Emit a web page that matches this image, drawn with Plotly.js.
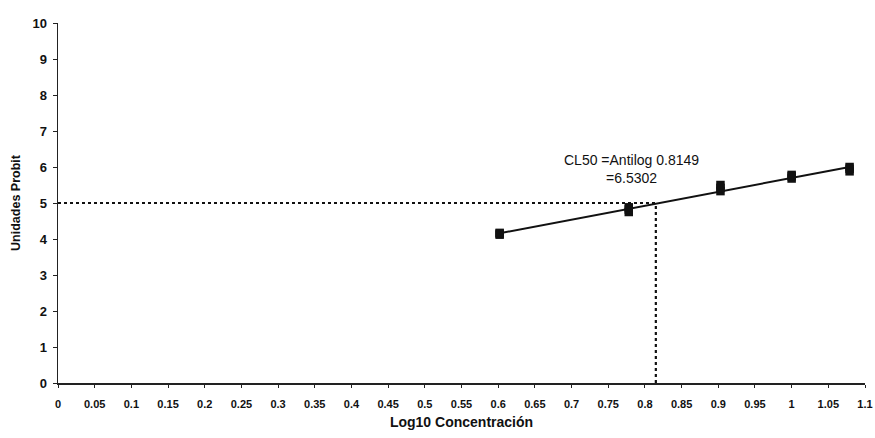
<!DOCTYPE html>
<html>
<head>
<meta charset="utf-8">
<script src="https://cdn.plot.ly/plotly-3.0.1.min.js"></script>
<style>html,body{margin:0;padding:0;background:#fff;}#chart{width:875px;height:438px;}</style>
</head>
<body>
<div id="chart"></div>
<script>
// Observed data: log10 concentration and probit units (replicates)
const logConc = [0.602, 0.602, 0.602, 0.778, 0.778, 0.778, 0.903, 0.903, 0.903, 1.0, 1.0, 1.0, 1.079, 1.079, 1.079];
const probit  = [4.12, 4.15, 4.17, 4.75, 4.82, 4.88, 5.33, 5.42, 5.50, 5.68, 5.74, 5.78, 5.88, 5.95, 6.00];
// Regression line endpoints
const fitX = [0.602, 1.079];
const fitY = [4.16, 6.0];
// CL50 reference
const cl50Log = 0.8149;
const probit50 = 5;
const cl50Text = ["CL50 =Antilog 0.8149", "=6.5302"];
// Axis ticks
const xTicks = [0, 0.05, 0.1, 0.15, 0.2, 0.25, 0.3, 0.35, 0.4, 0.45, 0.5, 0.55, 0.6, 0.65, 0.7, 0.75, 0.8, 0.85, 0.9, 0.95, 1, 1.05, 1.1];
const yTicks = [0, 1, 2, 3, 4, 5, 6, 7, 8, 9, 10];

const font = "Liberation Sans, Arial, sans-serif";

const traces = [
  {x: [0, cl50Log], y: [probit50, probit50], mode: "lines", line: {color: "#111", width: 2.2, dash: "dot"}, hoverinfo: "skip"},
  {x: [cl50Log, cl50Log], y: [0, probit50], mode: "lines", line: {color: "#111", width: 2.2, dash: "dot"}, hoverinfo: "skip"},
  {x: fitX, y: fitY, mode: "lines", line: {color: "#111", width: 2}},
  {x: logConc, y: probit, mode: "markers", marker: {symbol: "square", size: 8.5, color: "#111"}}
];

const layout = {
  width: 875, height: 438,
  margin: {l: 58, r: 10, t: 23, b: 55},
  paper_bgcolor: "#fff", plot_bgcolor: "#fff",
  showlegend: false,
  font: {family: font, color: "#111"},
  xaxis: {
    range: [0, 1.1], tickvals: xTicks, ticktext: xTicks.map(String),
    showgrid: false, zeroline: false, showline: true, linecolor: "#222", linewidth: 1.5,
    ticks: "outside", ticklen: 3, tickcolor: "#222", tickwidth: 1,
    tickfont: {size: 11, family: font, weight: "bold"}, ticklabelstandoff: 7,
    title: {text: "<b>Log10 Concentración</b>", font: {size: 14, family: font}, standoff: 8}
  },
  yaxis: {
    range: [0, 10], tickvals: yTicks,
    showgrid: false, zeroline: false, showline: true, linecolor: "#222", linewidth: 1.5,
    ticks: "outside", ticklen: 4, tickcolor: "#222", tickwidth: 1,
    tickfont: {size: 13, family: font, weight: "bold"}, ticklabelstandoff: 3,
    title: {text: "<b>Unidades Probit</b>", font: {size: 12.5, family: font}, standoff: 9}
  },
  annotations: [
    {x: cl50Log, y: probit50, xref: "x", yref: "y", text: cl50Text.join("<br>"), showarrow: false,
     xshift: -24, yshift: 34, font: {size: 14, family: font, color: "#111"}, align: "center"}
  ]
};

Plotly.newPlot("chart", traces, layout, {displayModeBar: false, staticPlot: true});
</script>
</body>
</html>
